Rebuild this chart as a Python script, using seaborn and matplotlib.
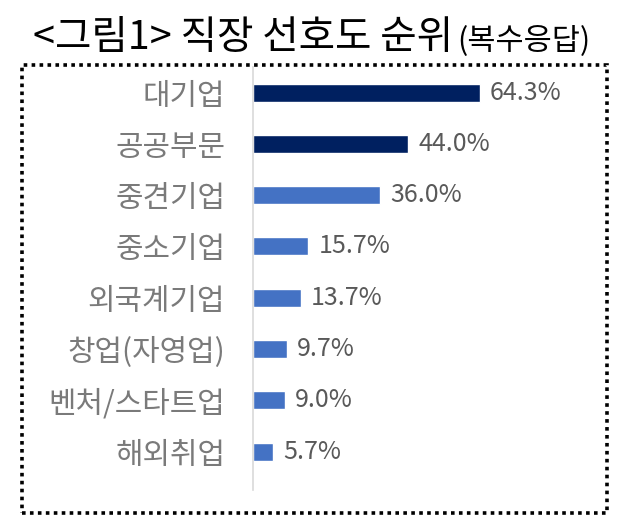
import matplotlib
matplotlib.use("Agg")
import matplotlib.pyplot as plt
import seaborn as sns
import pandas as pd
from matplotlib.patches import Rectangle

categories = ["대기업", "공공부문", "중견기업", "중소기업", "외국계기업", "창업(자영업)", "벤처/스타트업", "해외취업"]
values = [64.3, 44.0, 36.0, 15.7, 13.7, 9.7, 9.0, 5.7]
value_labels = ["64.3%", "44.0%", "36.0%", "15.7%", "13.7%", "9.7%", "9.0%", "5.7%"]
bar_colors = ["#002060", "#002060", "#4472C4", "#4472C4", "#4472C4", "#4472C4", "#4472C4", "#4472C4"]
title_main = "<그림1> 직장 선호도 순위"
title_sub = "(복수응답)"

sns.set_theme(style="white")
plt.rcParams['font.family'] = ['Noto Sans CJK KR', 'DejaVu Sans']

W, H = 618, 532
fig = plt.figure(figsize=(W / 100, H / 100), dpi=100)

# axes placement (pixels)
ax_left, ax_right, ax_top, ax_bottom = 253, 600, 67, 490
ax = fig.add_axes([ax_left / W, 1 - ax_bottom / H, (ax_right - ax_left) / W, (ax_bottom - ax_top) / H])

df = pd.DataFrame({"cat": categories, "val": values})
sns.barplot(data=df, x="val", y="cat", hue="cat", palette=bar_colors, legend=False,
            orient="h", width=0.35, ax=ax, saturation=1)

ax.set_xlim(0, 98.3)
ax.set_ylim(7.75, -0.5)
ax.set_xlabel("")
ax.set_ylabel("")
ax.set_xticks([])
for s in ["top", "right", "bottom"]:
    ax.spines[s].set_visible(False)
ax.spines["left"].set_color("#d9d9d9")
ax.spines["left"].set_linewidth(1.2)
ax.tick_params(axis="y", length=0, pad=20, labelsize=21.5, labelcolor="#7a7a7a")

for i, (v, lab) in enumerate(zip(values, value_labels)):
    ax.text(v + 2.8, i, lab, va="center", ha="left", fontsize=18, color="#595959")

# dotted border
fig.patches.append(Rectangle((22 / W, 1 - 513 / H), (607 - 22) / W, (513 - 65) / H,
                             transform=fig.transFigure, fill=False, edgecolor="black",
                             linestyle=(0, (1, 1.2)), linewidth=2.6))

# title
t1 = fig.text(33 / W, 1 - 38 / H, title_main, ha="left", va="center", fontsize=28.5,
              color="black", fontweight="normal")
fig.canvas.draw()
bb = t1.get_window_extent()
fig.text((bb.x1 + 4) / W, 1 - 41 / H, title_sub, ha="left", va="center", fontsize=22, color="black")

fig.savefig("out.png", dpi=100)
